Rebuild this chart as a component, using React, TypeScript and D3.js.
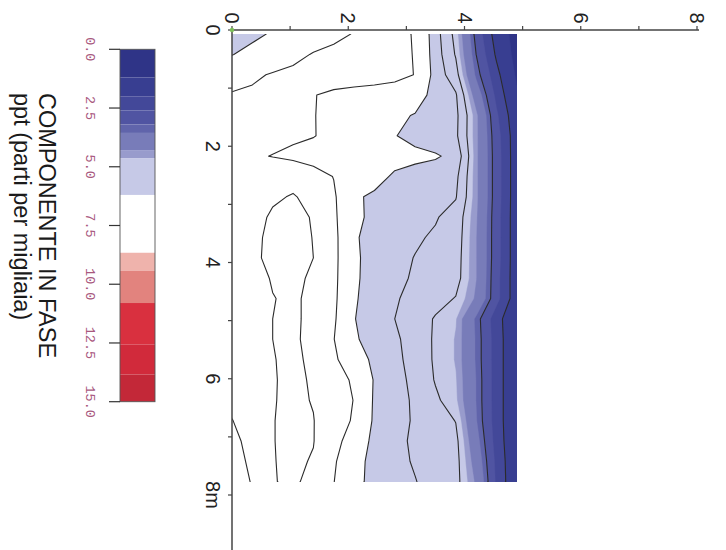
import React from 'react';
import * as d3 from 'd3';

// distance along the profile (m) of each grid row
const distRows: number[] = [0.07, 0.42, 0.77, 1.12, 1.47, 1.82, 2.17, 2.52, 2.87, 3.22, 3.57, 3.92, 4.27, 4.62, 4.97, 5.32, 5.67, 6.02, 6.37, 6.72, 7.07, 7.42, 7.77];
// second coordinate of each grid column
const heightCols: number[] = [0, 0.35, 0.7, 1.05, 1.4, 1.75, 2.1, 2.45, 2.8, 3.15, 3.5, 3.85, 4.2, 4.55, 4.9];

// in-phase component (ppt), one row per distance
const gridRows: number[][] = [
  [5.8, 6.05, 6.27, 6.47, 6.66, 6.85, 7.03, 7.12, 7.12, 6.97, 5.85, 4.82, 3.01, 1.7, 0.9],
  [6.18, 6.4, 6.6, 6.82, 7.04, 7.15, 7.22, 7.22, 7.18, 6.97, 5.9, 4.95, 3.2, 1.9, 0.95],
  [6.75, 6.9, 7.05, 7.15, 7.22, 7.27, 7.3, 7.28, 7.22, 6.98, 5.97, 5.22, 3.45, 2.19, 1.1],
  [7.05, 7.1, 7.12, 7.1, 7.02, 6.9, 6.8, 6.72, 6.6, 6.45, 6.02, 5.67, 3.96, 2.44, 1.3],
  [7.1, 7.15, 7.17, 7.12, 7.02, 6.85, 6.68, 6.5, 6.3, 6.17, 5.93, 5.75, 4.4, 2.7, 1.5],
  [7.15, 7.2, 7.2, 7.12, 7.03, 6.8, 6.6, 6.42, 6.22, 6.05, 5.88, 5.72, 4.4, 2.85, 1.6],
  [7.12, 7.08, 6.98, 6.85, 6.7, 6.6, 6.52, 6.45, 6.4, 6.33, 6.26, 6.05, 4.4, 2.9, 1.6],
  [7.15, 7.25, 7.45, 7.55, 7.3, 6.98, 6.7, 6.4, 6.12, 6.0, 5.9, 5.75, 4.4, 2.9, 1.6],
  [7.2, 7.35, 7.7, 7.85, 7.6, 7.1, 6.28, 6.11, 6.0, 5.88, 5.76, 5.64, 4.4, 2.9, 1.6],
  [7.25, 7.55, 7.9, 8.0, 7.75, 7.15, 6.25, 6.15, 6.0, 5.85, 5.65, 5.35, 4.35, 2.85, 1.6],
  [7.3, 7.65, 7.95, 8.05, 7.78, 7.2, 6.25, 6.05, 5.85, 5.68, 5.52, 5.3, 4.3, 2.85, 1.6],
  [7.3, 7.68, 7.95, 8.05, 7.8, 7.2, 6.27, 6.05, 5.78, 5.58, 5.45, 5.25, 4.3, 2.85, 1.6],
  [7.3, 7.55, 7.85, 7.95, 7.7, 7.18, 6.27, 6.03, 5.7, 5.55, 5.4, 5.22, 4.3, 2.8, 1.6],
  [7.25, 7.45, 7.78, 7.9, 7.65, 7.15, 6.25, 6.0, 5.65, 5.45, 5.2, 4.97, 4.2, 2.8, 1.6],
  [7.25, 7.45, 7.8, 7.9, 7.65, 7.1, 6.22, 5.95, 5.6, 5.3, 4.95, 4.65, 3.45, 2.25, 1.4],
  [7.25, 7.45, 7.8, 7.9, 7.62, 7.02, 6.25, 6.05, 5.7, 5.35, 4.92, 4.6, 3.5, 2.3, 1.4],
  [7.25, 7.45, 7.78, 7.9, 7.7, 7.15, 6.45, 6.1, 5.75, 5.38, 4.92, 4.6, 3.5, 2.3, 1.4],
  [7.25, 7.42, 7.77, 7.9, 7.75, 7.3, 6.9, 6.15, 5.8, 5.45, 4.96, 4.65, 3.55, 2.3, 1.4],
  [7.2, 7.4, 7.77, 7.92, 7.77, 7.35, 6.98, 6.12, 5.85, 5.5, 5.1, 4.7, 3.55, 2.3, 1.4],
  [6.98, 7.35, 7.78, 7.95, 7.82, 7.35, 6.92, 6.1, 5.85, 5.52, 5.3, 4.98, 3.6, 2.3, 1.4],
  [6.8, 7.25, 7.78, 7.95, 7.82, 7.28, 6.6, 6.05, 5.68, 5.55, 5.35, 5.15, 3.8, 2.35, 1.4],
  [6.7, 7.15, 7.78, 7.9, 7.76, 7.1, 6.38, 6.05, 5.75, 5.55, 5.4, 5.2, 4.0, 2.45, 1.4],
  [6.6, 7.05, 7.77, 7.9, 7.62, 7.02, 6.3, 6.1, 5.8, 5.62, 5.4, 5.2, 4.2, 2.5, 1.4],
];

// colour classes: lower edge of each band and its colour
const bandEdges: number[] = [0, 1.2, 2.0, 2.6, 3.2, 3.56, 4.29, 4.63, 6.2, 8.66, 9.43, 10.8, 12.56, 13.84, 15];
const bandColors: string[] = ['#2f3487', '#383e91', '#434899', '#5054a2', '#6064ab', '#787cb9', '#989bcc', '#c6c9e7', '#ffffff', '#efb3ac', '#e2837e', '#d9303f', '#d12a3b', '#c32838'];

// contour line levels
const lineLevels: number[] = [2.0, 3.2, 5.0, 5.6, 6.2, 7.0, 7.8];

const distTicks: number[] = [0, 1, 2, 3, 4, 5, 6, 7, 8, 9];
const distLabels: number[] = [0, 2, 4, 6, 8];
const heightTicks: number[] = [0, 1, 2, 3, 4, 5, 6, 7, 8];
const heightLabels: number[] = [0, 2, 4, 6, 8];
const cbTicks: number[] = [0, 2.5, 5, 7.5, 10, 12.5, 15];

const FONT = 'Liberation Sans, Arial, sans-serif';

export default function App() {
  const W = 726, H = 550;
  // distance runs down the page, the second axis runs to the right
  const dScale = d3.scaleLinear().domain([0, 8]).range([30, 495]);
  const hScale = d3.scaleLinear().domain([0, 8]).range([232, 697]);
  const cbScale = d3.scaleLinear().domain([0, 15]).range([49.3, 401.7]);

  const nx = heightCols.length, ny = distRows.length;
  const colToH = d3.scaleLinear().domain([0.5, nx - 0.5]).range([heightCols[0], heightCols[nx - 1]]);
  const rowToD = d3.scaleLinear().domain([0.5, ny - 0.5]).range([distRows[0], distRows[ny - 1]]);
  const values: number[] = [];
  for (let j = 0; j < ny; j++) for (let i = 0; i < nx; i++) values.push(gridRows[j][i]);

  const proj = d3.geoTransform({
    point(x: number, y: number) {
      (this as any).stream.point(hScale(colToH(x)), dScale(rowToD(y)));
    },
  });
  const path = d3.geoPath(proj);

  const fillThresholds = bandEdges.slice(0, -1).map((v, i) => (i === 0 ? -10 : v));
  const fills = d3.contours().size([nx, ny]).thresholds(fillThresholds)(values);
  const lines = d3.contours().size([nx, ny]).thresholds(lineLevels)(values);

  // whole-pixel clip so the stacked fills leave no seam along the edges
  const clipX0 = Math.round(hScale(heightCols[0]));
  const clipX1 = Math.round(hScale(heightCols[nx - 1]));
  const clipY0 = Math.round(dScale(distRows[0]));
  const clipY1 = Math.round(dScale(distRows[ny - 1]));

  const rot = (x: number, y: number) => `translate(${x},${y}) rotate(90)`;

  return (
    <svg width={W} height={H} style={{ position: 'absolute', left: 0, top: 0, background: '#fff' }}>
      <defs>
        <clipPath id="dataClip">
          <rect x={clipX0} y={clipY0} width={clipX1 - clipX0} height={clipY1 - clipY0} />
        </clipPath>
      </defs>
      <rect x={0} y={0} width={W} height={H} fill="#fff" />

      <g clipPath="url(#dataClip)">
        {fills.map((c, i) => (
          <path key={'f' + i} d={path(c as any) || ''} fill={bandColors[i]} stroke={bandColors[i]} strokeWidth={0.4} />
        ))}
        {lines.map((c, i) => (
          <path key={'l' + i} d={path(c as any) || ''} fill="none" stroke="#2b2b2b" strokeWidth={1.1} strokeLinejoin="round" />
        ))}
      </g>

      {/* axis along the top (second coordinate) */}
      <line x1={hScale(0)} x2={hScale(8) + 2} y1={30} y2={30} stroke="#444" strokeWidth={1.5} />
      {heightTicks.map((t) => (
        <line key={'ht' + t} x1={hScale(t)} x2={hScale(t)} y1={26} y2={30} stroke="#444" strokeWidth={1.2} />
      ))}
      {heightLabels.map((t) => (
        <text key={'hl' + t} transform={rot(hScale(t), 18)} textAnchor="middle" dominantBaseline="central"
          fontFamily={FONT} fontSize={20} fill="#222">{t}</text>
      ))}

      {/* distance axis down the left */}
      <line x1={232} x2={232} y1={30} y2={H} stroke="#444" strokeWidth={1.5} />
      {distTicks.map((t) => (
        <line key={'dt' + t} x1={228} x2={232} y1={dScale(t)} y2={dScale(t)} stroke="#444" strokeWidth={1.2} />
      ))}
      {distLabels.map((t) => (
        <text key={'dl' + t} transform={rot(213, dScale(t))} textAnchor="middle" dominantBaseline="central"
          fontFamily={FONT} fontSize={20} fill="#222">{t === 8 ? '8m' : String(t)}</text>
      ))}
      <circle cx={232} cy={30} r={2.2} fill="#7cbf5a" />

      {/* colour bar */}
      {bandColors.map((col, i) => (
        <rect key={'cb' + i} x={120} width={35} y={cbScale(bandEdges[i])}
          height={cbScale(bandEdges[i + 1]) - cbScale(bandEdges[i])} fill={col} />
      ))}
      <rect x={120} y={cbScale(0)} width={35} height={cbScale(15) - cbScale(0)} fill="none" stroke="#555" strokeWidth={0.9} />
      {cbTicks.map((t) => (
        <line key={'ct' + t} x1={109} x2={120} y1={cbScale(t)} y2={cbScale(t)} stroke="#333" strokeWidth={1.2} />
      ))}
      {cbTicks.map((t) => (
        <text key={'cl' + t} transform={rot(89, cbScale(t))} textAnchor="middle" dominantBaseline="central"
          fontFamily="Liberation Mono, DejaVu Sans Mono, monospace" fontSize={13.5} fill="#a8587e">{t.toFixed(1)}</text>
      ))}
      <text transform={rot(47, 93)} textAnchor="start" dominantBaseline="central" fontFamily={FONT} fontSize={23.5} fill="#1a1a1a">COMPONENTE IN FASE</text>
      <text transform={rot(22, 93)} textAnchor="start" dominantBaseline="central" fontFamily={FONT} fontSize={23.5} fill="#1a1a1a">ppt (parti per migliaia)</text>
    </svg>
  );
}
